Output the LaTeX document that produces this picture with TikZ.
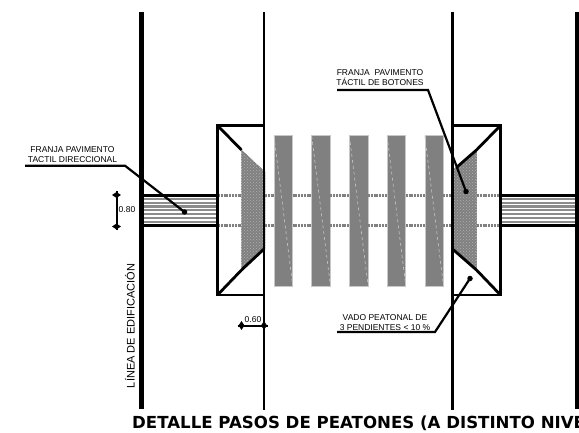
\documentclass[tikz,border=0pt]{standalone}
\usepackage{fontspec}
\setmainfont{Liberation Sans}
\newfontfamily\titlefont{DejaVu Sans}
\usetikzlibrary{positioning}
\usetikzlibrary{calc}
\usetikzlibrary{shapes.geometric}
\usetikzlibrary{patterns}

\begin{document}
\begin{tikzpicture}[
    x=1pt, y=-1pt,
    wall/.style={draw=black, line width=5pt},
    kerb/.style={draw=black, line width=2.5pt},
    ramp/.style={draw=black, line width=2.8pt, line join=miter},
    bar/.style={fill=black!50, draw=black!22, line width=0.6pt},
    barline/.style={draw=black!22, line width=0.6pt, dashed},
    tactil/.style={fill=black!50, draw=black!60, line width=0.6pt, densely dotted},
    guide/.style={draw=black!50, line width=2.2pt, dash pattern=on 2pt off 0.8pt},
    stripe/.style={draw=black!45, line width=2.2pt},
    leader/.style={draw=black, line width=2.2pt, line join=miter},
    dot/.style={circle, fill=black, inner sep=0pt, minimum size=5.5pt},
    tick/.style={diamond, fill=black, inner sep=0pt, minimum width=9pt, minimum height=6pt},
    note/.style={inner sep=0pt, align=center, font=\fontsize{8.5}{10}\selectfont},
]
    \useasboundingbox (0,0) rectangle (579,433);
    \fill[white] (0,0) rectangle (579,433);

    % paving strips
    \foreach \xa/\xb in {141/217, 500/577} {
        \foreach \ya in {199, 202.8, 206.6, 210.4, 214.2, 218, 221.8} {
            \draw[stripe] (\xa,\ya) -- (\xb,\ya);
        }
        \draw[black, line width=2.4pt] (\xa,195.5) -- (\xb,195.5);
        \draw[black, line width=2.4pt] (\xa,225.5) -- (\xb,225.5);
    }

    % crossing bars
    \foreach \xa in {274, 311.7, 349.4, 387.1, 424.8} {
        \filldraw[bar] (\xa,135) rectangle ($(\xa,286)+(18.6,0)$);
        \draw[barline] (\xa,136) -- ($(\xa,285)+(18.6,0)$);
    }

    % guide lines
    \foreach \ya in {195.5, 225.5} {
        \draw[guide] (218,\ya) -- (241,\ya);
        \draw[guide] (265,\ya) -- (274,\ya);
        \draw[guide] (292.6,\ya) -- (311.7,\ya);
        \draw[guide] (330.3,\ya) -- (349.4,\ya);
        \draw[guide] (368,\ya) -- (387.1,\ya);
        \draw[guide] (405.7,\ya) -- (424.8,\ya);
        \draw[guide] (443.4,\ya) -- (452,\ya);
        \draw[guide] (477,\ya) -- (500,\ya);
    }

    % tactile ramps
    \filldraw[tactil] (241.5,150) -- (265,172) -- (265,249) -- (241.5,270) -- cycle;
    \filldraw[tactil] (476.5,150) -- (452.5,170) -- (452.5,249) -- (476.5,270) -- cycle;
    \fill[pattern=crosshatch dots, pattern color=black!30] (241.5,150) -- (265,172) -- (265,249) -- (241.5,270) -- cycle;
    \fill[pattern=crosshatch dots, pattern color=black!30] (476.5,150) -- (452.5,170) -- (452.5,249) -- (476.5,270) -- cycle;

    % walls and kerbs
    \draw[wall] (141.5,12) -- (141.5,409);
    \draw[wall, line width=4pt] (576.5,12) -- (576.5,409);
    \draw[kerb] (264,12) -- (264,410);
    \draw[kerb] (452.5,12) -- (452.5,410);

    % vados
    \draw[ramp] (264,125.5) -- (217.5,125.5) -- (217.5,295) -- (264,295);
    \draw[ramp] (217.5,125.5) -- (241.5,150);
    \draw[ramp] (217.5,295) -- (241.5,270);
    \draw[ramp] (241.5,270) -- (264,249);
    \draw[ramp] (452.5,125.5) -- (500.5,125.5) -- (500.5,295) -- (452.5,295);
    \draw[ramp] (500.5,125.5) -- (476.5,150) -- (457,167);
    \draw[ramp] (500.5,295) -- (476.5,270) -- (452.5,249);

    % labels
    \node[note] (dir) at (72.5,154.7) {FRANJA PAVIMENTO\\TACTIL DIRECCIONAL};
    \node[note] (bot) at (380,78) {FRANJA \ PAVIMENTO\\TÁCTIL DE BOTONES};
    \node[note] (vado) at (385,322.7) {VADO PEATONAL DE\\3 PENDIENTES < 10 \%};
    \node[note, rotate=90, font=\fontsize{11}{12}\selectfont] (edif) at (130,326) {LÍNEA DE EDIFICACIÓN};
    \node[note] (d80) at (127,210) {0.80};
    \node[note] (d60) at (253,320) {0.60};
    \node[inner sep=0pt, anchor=base west, font=\titlefont\fontsize{16.6}{17}\bfseries\selectfont] (title) at (132,428)
        {DETALLE PASOS DE PEATONES (A DISTINTO NIVEL)};

    % leaders
    \node[dot] (dotdir) at (184.5,212) {};
    \node[dot] (dotbot) at (466,191.5) {};
    \node[dot] (dotvado) at (470,278.5) {};
    \draw[leader] (25,165.7) -- (125,165.7) -- (dotdir.center);
    \draw[leader] (337,90) -- (428,90) -- (dotbot.center);
    \draw[leader] (337,332) -- (435,332) -- (dotvado.center);

    % dimensions
    \node[tick] (t1) at (116.5,195) {};
    \node[tick] (t2) at (116.5,226.5) {};
    \node[tick, minimum width=6pt, minimum height=9pt] (t3) at (241.5,325.5) {};
    \node[tick, minimum width=6pt, minimum height=9pt] (t4) at (264,325.5) {};
    \draw[black, line width=2pt] ($(t1)+(0,-3.5)$) -- ($(t2)+(0,3.5)$);
    \draw[black, line width=2pt] ($(t3)+(-4,0)$) -- ($(t4)+(4,0)$);
\end{tikzpicture}
\end{document}
